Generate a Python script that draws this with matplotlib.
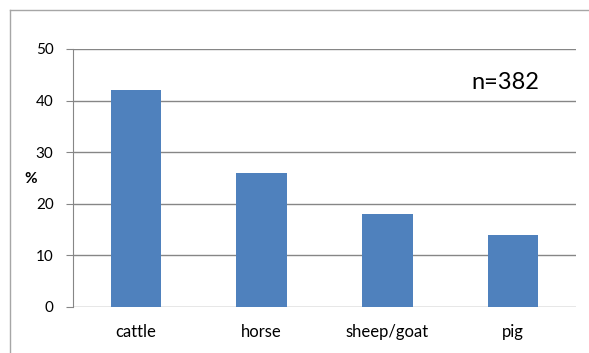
import matplotlib
matplotlib.use("Agg")
import matplotlib.pyplot as plt
from matplotlib.lines import Line2D

categories = ["cattle", "horse", "sheep/goat", "pig"]
percent = [42, 26, 18, 14]
yticks = [0, 10, 20, 30, 40, 50]
note = "n=382"

W, H = 589, 353
fig = plt.figure(figsize=(W / 100, H / 100), dpi=100)
plt.rcParams["font.family"] = ["Lato", "DejaVu Sans"]

# outer chart border (Excel-style): only top and left edges are visible
fx0, fy0 = 9.5 / W, 1 - 9.5 / H
fig.lines.append(Line2D([fx0, 1.0], [fy0, fy0], transform=fig.transFigure,
                        color="#a6a6a6", lw=1.0))
fig.lines.append(Line2D([fx0, fx0], [fy0, 0.0], transform=fig.transFigure,
                        color="#a6a6a6", lw=1.0))

ax = fig.add_axes([73 / W, 1 - 307 / H, (576 - 73) / W, (307 - 49) / H])
x = range(len(categories))
ax.bar(x, percent, width=0.4, color="#4f81bd", zorder=3)
ax.set_xlim(-0.5, len(categories) - 0.5)
ax.set_ylim(0, 50)
ax.set_yticks(yticks)
ax.set_xticks(list(x))
ax.set_xticklabels(categories, fontsize=12)
ax.tick_params(axis="y", labelsize=11, length=5, color="#868686", pad=9)
ax.tick_params(axis="x", length=0, pad=12)
ax.grid(axis="y", color="#868686", lw=1.0, zorder=0)
for s in ["top", "right", "bottom"]:
    ax.spines[s].set_visible(False)
ax.spines["left"].set_color("#868686")
ax.text(31 / W, 1 - 179 / H, "%", transform=fig.transFigure, fontsize=11,
        fontweight="bold", ha="center", va="center")
ax.text(0.86, 0.87, note, transform=ax.transAxes, fontsize=17,
        ha="center", va="center")

fig.savefig("out.png", dpi=100)
